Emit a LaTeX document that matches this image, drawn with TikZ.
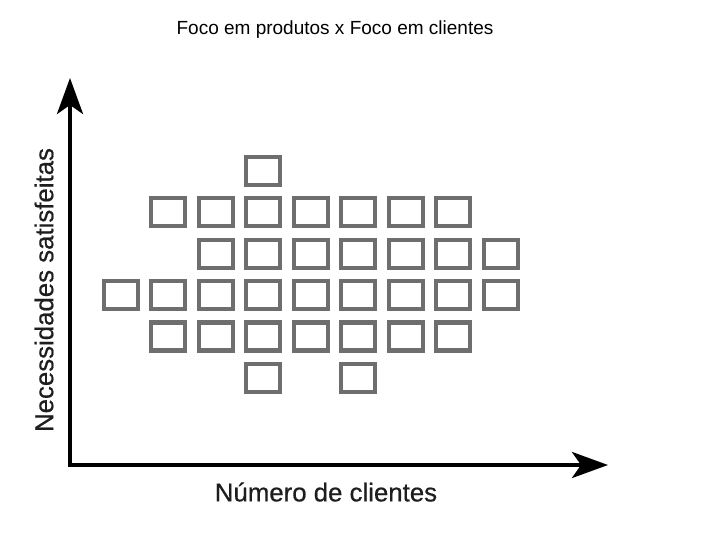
\documentclass[tikz,border=0pt]{standalone}
\usepackage{fontspec}
\setmainfont{Liberation Sans}
\newfontfamily\labelfont[FakeBold=0.6]{Liberation Sans}
\usetikzlibrary{arrows.meta}
\definecolor{boxgray}{HTML}{6E6E6E}
\definecolor{textdark}{HTML}{1E1E1E}
\tikzset{
  cell/.style={draw=boxgray, line width=4.2pt, fill=white, minimum width=34pt, minimum height=28pt, inner sep=0pt},
  axis/.style={line width=4pt, draw=black, line join=miter},
  axistip/.tip={Stealth[length=36pt, width=26pt, inset=9pt]},
  title/.style={font=\fontsize{19}{22}\selectfont, text=black, inner sep=0pt},
  axislabel/.style={font=\labelfont\fontsize{25.8}{30}\selectfont, text=textdark, inner sep=0pt}
}
\begin{document}
\begin{tikzpicture}[x=1pt,y=-1pt]
\useasboundingbox (0,0) rectangle (720,540);
\node[title] (title) at (335,30) {Foco em produtos x Foco em clientes};
% grid of cells
\foreach \r/\cols in {0/{3},1/{1,2,3,4,5,6,7},2/{2,3,4,5,6,7,8},3/{0,1,2,3,4,5,6,7,8},4/{1,2,3,4,5,6,7},5/{3,5}}{
  \foreach \c in \cols {
    \node[cell] (s-\r-\c) at ({120.7+47.5*\c},{171+41.35*\r}) {};
  }
}
% axes
\coordinate (origin) at (70,465);
\coordinate (ytop) at (70,78);
\coordinate (xend) at (608,465);
\draw[axis, axistip-axistip] (ytop) -- (origin) -- (xend);
\node[axislabel, rotate=90] (ylabel) at (44,290) {Necessidades satisfeitas};
\node[axislabel] (xlabel) at (326,492) {Número de clientes};
\end{tikzpicture}
\end{document}
